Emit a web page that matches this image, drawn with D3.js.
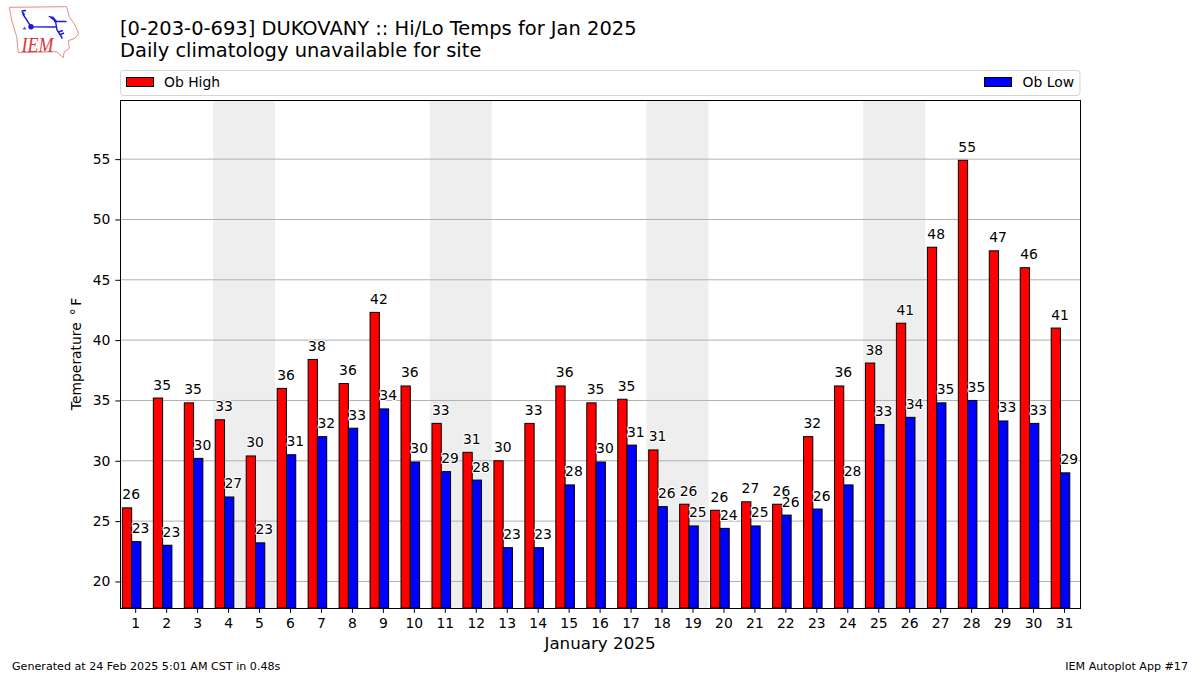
<!DOCTYPE html>
<html>
<head>
<meta charset="utf-8">
<script src="https://cdn.jsdelivr.net/npm/d3@7"></script>
<style>
  html, body { margin: 0; padding: 0; background: #fff; }
  text { font-family: "DejaVu Sans", sans-serif; fill: #000; }
</style>
</head>
<body>
<div id="chart"></div>
<script>
// values
const days = d3.range(1, 32);
const obHigh = [26.1, 35.2, 34.8, 33.4, 30.4, 36.0, 38.4, 36.4, 42.3, 36.2, 33.1, 30.7, 30.0, 33.1, 36.2, 34.8,
  35.1, 30.9, 26.4, 25.9, 26.6, 26.4, 32.0, 36.2, 38.1, 41.4, 47.7, 54.9, 47.4, 46.0, 41.0];
const obLow = [23.3, 23.0, 30.2, 27.0, 23.2, 30.5, 32.0, 32.7, 34.3, 29.9, 29.1, 28.4, 22.8, 22.8, 28.0, 29.9,
  31.3, 26.2, 24.6, 24.4, 24.6, 25.5, 26.0, 28.0, 33.0, 33.6, 34.8, 35.0, 33.3, 33.1, 29.0];
const yTicks = [20, 25, 30, 35, 40, 45, 50, 55];
const weekends = [[4, 5], [11, 12], [18, 19], [25, 26]];

const margin = {top: 100, right: 120, bottom: 67, left: 120.2},
    width = 1200 - margin.left - margin.right,
    height = 675 - margin.top - margin.bottom;

const svg = d3.select("#chart")
  .append("svg")
    .attr("width", 1200)
    .attr("height", 675)
    .style("display", "block");

// logo, top left
const logo = svg.append("g").attr("fill", "none");
logo.append("path")
  .attr("d", "M9.3,7.3 L66.7,6.7 L69.3,16.7 L74,23.3 L78.7,33.3 L75,38.3 L68.3,40.7 L69.3,48.3 L64.3,51.7 L63.3,57.7 L56.7,51.7 L18.3,52.7 L16.7,36.7 L11.7,20 Z")
  .attr("stroke", "#e58a8a").attr("stroke-width", 1);
logo.append("path")
  .attr("d", "M31,26.7 L56.7,27 M31,26.7 L22.5,13.5 M21.7,11 L24.5,15 M21.7,11 L26,10.5 M54,21.5 L66.5,21.5 M55.5,21 L57,30 L62.5,38.5 M58.5,32 L63,30.5 M60.5,34.5 L64,33")
  .attr("stroke", "#1a1ae0").attr("stroke-width", 1.4);
logo.append("circle").attr("cx", 31).attr("cy", 26.7).attr("r", 2.7).attr("fill", "#1a1ae0");
logo.append("path").attr("d", "M47.7,15.7 L53.5,16.7 L57.5,21.7 L55,21.7 Z").attr("fill", "#1a1ae0");
logo.append("path").attr("d", "M24.5,26.5 L26.5,29.5 L22.5,29.5 Z").attr("fill", "#5a5ae0");
logo.append("text")
  .attr("x", 21.5).attr("y", 51.5)
  .attr("textLength", 32)
  .attr("lengthAdjust", "spacingAndGlyphs")
  .style("font-family", "'Liberation Serif', serif")
  .style("font-style", "italic")
  .style("font-size", "21px")
  .style("fill", "#d9343a")
  .text("IEM");

// titles
svg.append("text").attr("x", 120).attr("y", 35).style("font-size", "19.47px")
  .text("[0-203-0-693] DUKOVANY :: Hi/Lo Temps for Jan 2025");
svg.append("text").attr("x", 120).attr("y", 57).style("font-size", "19.47px")
  .text("Daily climatology unavailable for site");

const g = svg.append("g")
  .attr("transform", `translate(${margin.left},${margin.top})`);

const x = d3.scaleBand()
  .domain(days)
  .range([0, width]);

const y = d3.scaleLinear()
  .domain([17.8, 59.9])
  .range([height, 0]);

const bw = x.bandwidth();

// weekend shading
g.selectAll(".weekend")
  .data(weekends)
  .join("rect")
    .attr("class", "weekend")
    .attr("x", d => x(d[0]))
    .attr("y", 0)
    .attr("width", d => x(d[1]) + bw - x(d[0]))
    .attr("height", height)
    .attr("fill", "#eeeeee");

// gridlines
g.selectAll(".grid")
  .data(yTicks)
  .join("line")
    .attr("class", "grid")
    .attr("x1", 0)
    .attr("x2", width)
    .attr("y1", d => y(d))
    .attr("y2", d => y(d))
    .attr("stroke", "#b0b0b0")
    .attr("stroke-width", 1);

// bars
function drawBars(values, color, offset) {
  g.append("g")
    .selectAll("rect")
    .data(values)
    .join("rect")
      .attr("x", (d, i) => x(days[i]) + bw * offset)
      .attr("y", d => y(d))
      .attr("width", bw * 0.3)
      .attr("height", d => height - y(d))
      .attr("fill", color)
      .attr("stroke", "#000")
      .attr("stroke-width", 1);
}
drawBars(obHigh, "#ff0000", 0.07);
drawBars(obLow, "#0000ff", 0.37);

// value labels, left aligned on the bar
function drawLabels(values, offset) {
  g.append("g")
    .selectAll("text")
    .data(values)
    .join("text")
      .attr("x", (d, i) => x(days[i]) + bw * offset)
      .attr("y", d => y(d) - 8.5)
      .style("font-size", "13.9px")
      .style("paint-order", "stroke")
      .style("stroke", "#fff")
      .style("stroke-width", "2px")
      .text(d => Math.round(d));
}
drawLabels(obHigh, 0.07);
drawLabels(obLow, 0.37);

// axes
const xAxis = g.append("g")
  .attr("transform", `translate(0,${height})`)
  .call(d3.axisBottom(x).tickSizeOuter(0).tickSize(4.9).tickPadding(4.9));
const yAxis = g.append("g")
  .call(d3.axisLeft(y).tickValues(yTicks).tickSizeOuter(0).tickSize(4.9).tickPadding(4.9));
[xAxis, yAxis].forEach(a => {
  a.selectAll("text").style("font-size", "13.9px").style("font-family", "'DejaVu Sans', sans-serif");
  a.selectAll(".domain").remove();
  a.selectAll("line").attr("stroke", "#000");
});

// frame
g.append("rect")
  .attr("width", width)
  .attr("height", height)
  .attr("fill", "none")
  .attr("stroke", "#000")
  .attr("stroke-width", 1)
  .attr("shape-rendering", "crispEdges");

// axis titles
const yTitle = svg.append("text")
  .attr("transform", "translate(81,354) rotate(-90)")
  .attr("text-anchor", "middle")
  .style("font-size", "13.9px")
  .text("Temperature ");
yTitle.append("tspan").attr("dx", 2.5).text("\u00b0");
yTitle.append("tspan").attr("dx", 2.5).text("F");
svg.append("text")
  .attr("x", 600).attr("y", 649)
  .attr("text-anchor", "middle")
  .style("font-size", "16.7px")
  .text("January 2025");

// handmade legend
svg.append("rect").attr("x", 120.5).attr("y", 70.5).attr("width", 959.5).attr("height", 25).attr("rx", 3)
  .attr("fill", "#fff").attr("stroke", "#d5d5d5");
svg.append("rect").attr("x", 126.5).attr("y", 77.5).attr("width", 27).attr("height", 9)
  .attr("fill", "#ff0000").attr("stroke", "#000");
svg.append("text").attr("x", 164).attr("y", 86.5).style("font-size", "13.9px").text("Ob High");
svg.append("rect").attr("x", 984.5).attr("y", 77.5).attr("width", 27).attr("height", 9)
  .attr("fill", "#0000ff").attr("stroke", "#000");
svg.append("text").attr("x", 1074).attr("y", 86.5).attr("text-anchor", "end").style("font-size", "13.9px").text("Ob Low");

// footer
svg.append("text").attr("x", 12).attr("y", 670).style("font-size", "11.11px")
  .text("Generated at 24 Feb 2025 5:01 AM CST in 0.48s");
svg.append("text").attr("x", 1188).attr("y", 670).attr("text-anchor", "end").style("font-size", "11.11px")
  .text("IEM Autoplot App #17");
</script>
</body>
</html>
